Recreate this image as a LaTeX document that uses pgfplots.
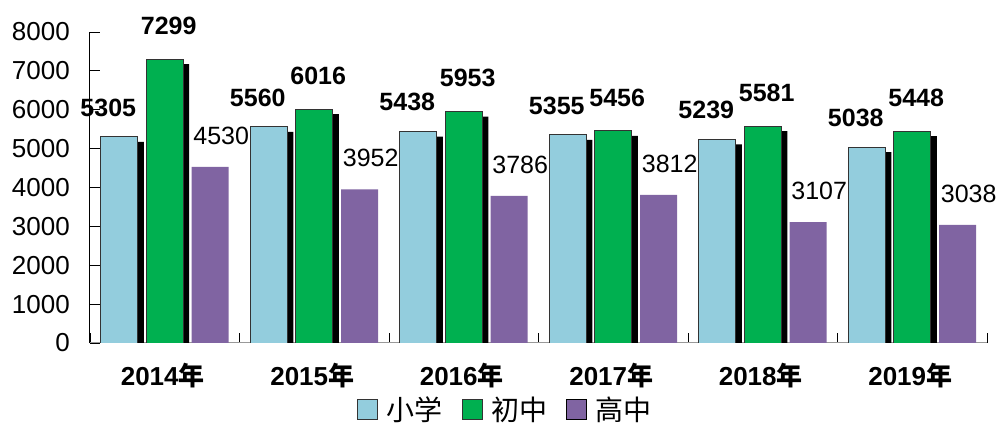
\documentclass[border=0pt]{standalone}
\usepackage{pgfplots}
\pgfplotsset{compat=1.18}
\usepackage{fontspec}
\setmainfont{Liberation Sans}
\newfontfamily\cjk{Noto Sans CJK SC}
\definecolor{cA}{HTML}{93CDDD}
\definecolor{cB}{HTML}{00B050}
\definecolor{cC}{HTML}{8064A2}
\begin{document}
\begin{tikzpicture}[x=1pt,y=1pt]
\path[use as bounding box] (-90,-82) rectangle (915,343);
\begin{axis}[
  at={(0pt,0pt)}, anchor=south west,
  scale only axis, width=897pt, height=311pt,
  xmin=-0.5, xmax=5.5, ymin=0, ymax=8000,
  axis lines*=left,
  ybar, bar width=0.2475,
  legend image code/.code={\draw[#1] (0pt,-10pt) rectangle (20pt,10pt);},
  tick align=inside,
  xtick={0,...,5},
  xticklabels={{2014{\cjk 年}},{2015{\cjk 年}},{2016{\cjk 年}},{2017{\cjk 年}},{2018{\cjk 年}},{2019{\cjk 年}}},
  minor xtick={-0.5,0.5,...,5.5},
  major x tick style={draw=none},
  minor tick length=10pt, major tick length=10pt,
  ytick={0,1000,...,8000},
  scaled y ticks=false,
  /pgf/number format/1000 sep={},
  /pgf/number format/assume math mode=true,
  yticklabel style={anchor=east, inner sep=0pt, xshift=-20pt, font=\fontsize{26}{30}\selectfont},
  xticklabel style={anchor=north, inner sep=0pt, yshift=-20pt, xshift=-2pt, font=\bfseries\fontsize{26}{30}\selectfont},
  x axis line style={draw=gray!80, line width=1pt},
  y axis line style={draw=black, line width=1pt},
  every tick/.style={black, line width=0.8pt},
  legend columns=3,
  legend style={draw=none, fill=none, at={(axis description cs:0.463,-0.213)}, anchor=center,
    font=\cjk\fontsize{28}{31}\selectfont,
    /tikz/every odd column/.append style={column sep=7pt},
    /tikz/every even column/.append style={column sep=17pt}},
]
% shadows
\addplot[forget plot, fill=black, draw=none, bar shift=-0.304, xshift=6pt, yshift=-5pt]
  coordinates {(0,5305) (1,5560) (2,5438) (3,5355) (4,5239) (5,5038)};
\addplot[forget plot, fill=black, draw=none, bar shift=0, xshift=6pt, yshift=-5pt]
  coordinates {(0,7299) (1,6016) (2,5953) (3,5456) (4,5581) (5,5448)};
% bars
\addplot[fill=cA, draw=black!80, line width=0.8pt, bar shift=-0.304,
  nodes near coords,
  every node near coord/.append style={font=\bfseries\fontsize{25}{30}\selectfont, anchor=south, inner sep=0pt, xshift=-11pt, yshift=20pt, draw=none, fill=none}]
  coordinates {(0,5305) (1,5560) (2,5438) (3,5355) (4,5239) (5,5038)};
\addlegendentry{小学}
\addplot[fill=cB, draw=black!80, line width=0.8pt, bar shift=0,
  nodes near coords,
  every node near coord/.append style={font=\bfseries\fontsize{25}{30}\selectfont, anchor=south, inner sep=0pt, xshift=4pt, yshift=24pt, draw=none, fill=none}]
  coordinates {(0,7299) (1,6016) (2,5953) (3,5456) (4,5581) (5,5448)};
\addlegendentry{初中}
\addplot[fill=cC, draw=none, bar shift=0.304,
  nodes near coords,
  every node near coord/.append style={font=\fontsize{25}{30}\selectfont, anchor=south, inner sep=0pt, xshift=11pt, yshift=22pt, draw=none, fill=none}]
  coordinates {(0,4530) (1,3952) (2,3786) (3,3812) (4,3107) (5,3038)};
\addlegendentry{高中}
\end{axis}
\end{tikzpicture}
\end{document}
